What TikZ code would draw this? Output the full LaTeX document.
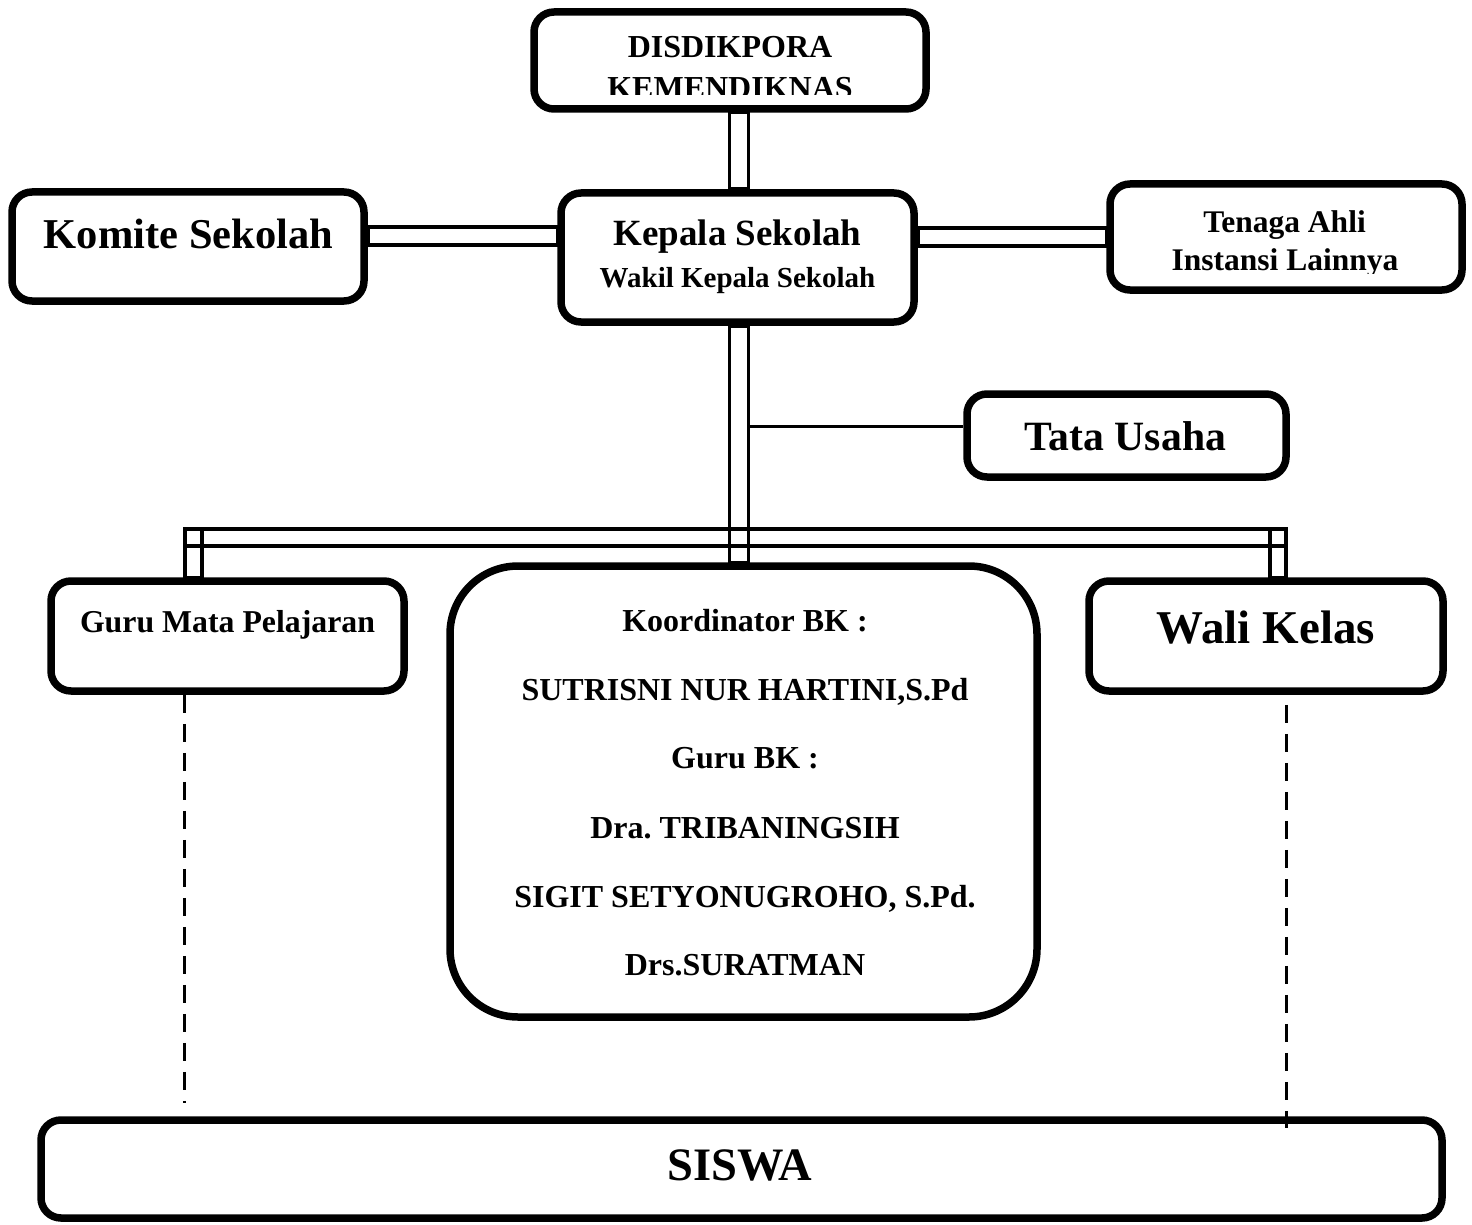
\documentclass[tikz,border=0pt]{standalone}
\usepackage{fontspec}
\setmainfont{Liberation Serif}
\frenchspacing
\begin{document}
\begin{tikzpicture}[x=1pt,y=-1pt,
  box/.style={draw, line width=7.5pt, rounded corners=20pt, inner sep=0pt},
  conn/.style={draw, line width=3.5pt},
  tline/.style={draw, line width=3pt},
  dsh/.style={draw, line width=3pt, dash pattern=on 18pt off 11pt},
  lbl/.style={anchor=base, inner sep=0pt, font=\bfseries}]
\useasboundingbox (0,0) rectangle (1472,1225);

% boxes
\node[box, minimum width=392pt, minimum height=97pt] (top) at (730,60.5) {};
\node[box, minimum width=353pt, minimum height=129pt] (kepala) at (737.5,257.5) {};
\node[box, minimum width=352pt, minimum height=109pt] (komite) at (188,246.5) {};
\node[box, minimum width=352pt, minimum height=106pt] (tenaga) at (1286,237) {};
\node[box, minimum width=319pt, minimum height=83pt] (tata) at (1126.5,435.5) {};
\node[box, minimum width=353pt, minimum height=110pt] (guru) at (227.5,636) {};
\node[box, rounded corners=68pt, minimum width=587pt, minimum height=451pt] (bk) at (743.5,791.5) {};
\node[box, minimum width=354pt, minimum height=110pt] (wali) at (1266,636) {};
\node[box, minimum width=1401pt, minimum height=98pt] (siswa) at (741.5,1169) {};

% texts
\begin{scope}
\clip (534,12) rectangle (926,95);
\node[lbl, font=\bfseries\fontsize{32}{38}\selectfont] (t1) at (730,58) {DISDIKPORA};
\node[lbl, font=\bfseries\fontsize{32}{38}\selectfont] (t2) at (730,99) {KEMENDIKNAS};
\end{scope}
\node[lbl, font=\bfseries\fontsize{42.5}{50}\selectfont] (t3) at (188.5,248) {Komite Sekolah};
\node[lbl, font=\bfseries\fontsize{37}{44}\selectfont] (t4) at (737.5,245) {Kepala Sekolah};
\node[lbl, font=\bfseries\fontsize{29}{35}\selectfont] (t5) at (737.5,287) {Wakil Kepala Sekolah};
\begin{scope}
\clip (1110,184) rectangle (1462,273);
\node[lbl, font=\bfseries\fontsize{31.5}{38}\selectfont] (t6) at (1284.5,233) {Tenaga Ahli};
\node[lbl, font=\bfseries\fontsize{31.5}{38}\selectfont] (t7) at (1285,270) {Instansi Lainnya};
\end{scope}
\node[lbl, font=\bfseries\fontsize{41.7}{50}\selectfont] (t8) at (1125.5,450) {Tata Usaha};
\node[lbl, font=\bfseries\fontsize{31.8}{38}\selectfont] (t9) at (227.5,632) {Guru Mata Pelajaran};
\node[lbl, font=\bfseries\fontsize{47}{56}\selectfont] (t10) at (1266,643) {Wali Kelas};
\node[lbl, font=\bfseries\fontsize{46.5}{56}\selectfont] (t11) at (740,1180) {SISWA};

\node[lbl, font=\bfseries\fontsize{32}{38}\selectfont] (b1) at (745,631) {Koordinator BK :};
\node[lbl, font=\bfseries\fontsize{32}{38}\selectfont] (b2) at (745,700) {SUTRISNI NUR HARTINI,S.Pd};
\node[lbl, font=\bfseries\fontsize{32}{38}\selectfont] (b3) at (745,768) {Guru BK :};
\node[lbl, font=\bfseries\fontsize{32}{38}\selectfont] (b4) at (745,838) {Dra. TRIBANINGSIH};
\node[lbl, font=\bfseries\fontsize{32}{38}\selectfont] (b5) at (745,907) {SIGIT SETYONUGROHO, S.Pd.};
\node[lbl, font=\bfseries\fontsize{32}{38}\selectfont] (b6) at (745,975) {Drs.SURATMAN};

% connectors
\coordinate (cl) at (729.5,0);
\coordinate (cr) at (748.5,0);
\draw[conn] (cl |- top.south) rectangle (cr |- kepala.north);
\draw[conn] (cl |- kepala.south) rectangle (cr |- bk.north);
\draw[conn] (komite.east |- 0,227) rectangle (kepala.west |- 0,245);
\draw[conn] (kepala.east |- 0,228) rectangle (tenaga.west |- 0,246);
\coordinate (tj) at (748.5,426);
\draw[tline] (tj) -- (tata.west |- tj);
\coordinate (bl) at (185,529);
\coordinate (br) at (1286,546);
\draw[conn] (bl) rectangle (br);
\draw[conn] (bl) rectangle (guru.north -| 202,0);
\draw[conn] (1270,529) rectangle (wali.north -| 1286,0);
\coordinate (gd) at (184,1103);
\coordinate (wd) at (1286,1128);
\draw[dsh] (guru.south -| gd) -- (gd);
\draw[dsh] ([yshift=-10pt]wali.south -| wd) -- (wd);
\end{tikzpicture}
\end{document}
